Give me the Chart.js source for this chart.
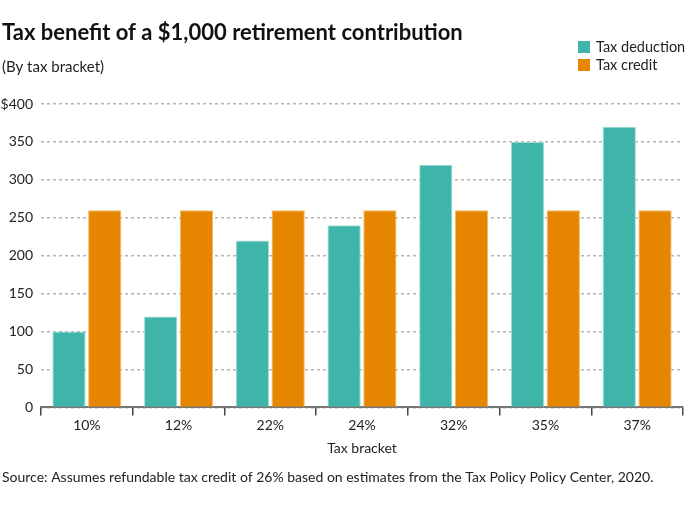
<!DOCTYPE html>
<html>
<head>
<meta charset="utf-8">
<script src="https://cdn.jsdelivr.net/npm/chart.js@4"></script>
<style>
html,body{margin:0;padding:0;background:#fff;}
#wrap{width:700px;height:509px;position:relative;}
</style>
</head>
<body>
<div id="wrap"><canvas id="c" width="700" height="509"></canvas></div>
<script>
const categories = ['10%','12%','22%','24%','32%','35%','37%'];
const deduction = [100,120,220,240,320,350,370];
const credit = [260,260,260,260,260,260,260];
const seriesNames = ['Tax deduction','Tax credit'];
const seriesColors = ['#3fb5aa','#e68600'];
const yTicks = [0,50,100,150,200,250,300,350,400];
const titleText = 'Tax benefit of a $1,000 retirement contribution';
const subtitleText = '(By tax bracket)';
const sourceText = 'Source: Assumes refundable tax credit of 26% based on estimates from the Tax Policy Policy Center, 2020.';
const xTitle = 'Tax bracket';
const FONT = 'Lato';

const overlay = {
  id:'overlay',
  afterDraw(chart){
    const ctx = chart.ctx;
    ctx.save();
    ctx.fillStyle = '#111';
    ctx.textBaseline = 'alphabetic';
    ctx.textAlign = 'left';
    ctx.font = 'bold 22px ' + FONT;
    ctx.fillText(titleText, 2, 40);
    ctx.fillStyle = '#222';
    ctx.font = '15px ' + FONT;
    ctx.fillText(subtitleText, 2, 72);
    ctx.font = '14px ' + FONT;
    ctx.fillText(sourceText, 2, 482);
    seriesNames.forEach((n,i)=>{
      const y = 41 + i*18;
      ctx.fillStyle = seriesColors[i];
      ctx.fillRect(578, y, 12, 12);
      ctx.fillStyle = '#222';
      ctx.font = '14.5px ' + FONT;
      ctx.fillText(n, 596, y + 11);
    });
    ctx.restore();
  }
};

new Chart(document.getElementById('c'), {
  type:'bar',
  data:{
    labels:categories,
    datasets:[
      {label:seriesNames[0], data:deduction, backgroundColor:seriesColors[0], borderColor:'#9fdcd5', borderWidth:1, categoryPercentage:0.78, barPercentage:0.93},
      {label:seriesNames[1], data:credit, backgroundColor:seriesColors[1], borderColor:'#f5b866', borderWidth:1, categoryPercentage:0.78, barPercentage:0.93}
    ]
  },
  options:{
    responsive:false,
    animation:false,
    devicePixelRatio:1,
    layout:{padding:{top:104,right:17,bottom:48,left:0}},
    plugins:{legend:{display:false},tooltip:{enabled:false},title:{display:false}},
    scales:{
      y:{
        min:0,max:400,
        afterBuildTicks(scale){ scale.ticks = yTicks.map(v=>({value:v})); },
        afterFit(scale){ scale.width = 41; },
        ticks:{
          font:{family:FONT,size:14}, color:'#222', padding:8,
          callback:(v)=> v===400 ? '$400' : String(v)
        },
        border:{display:false, dash:[3,3]},
        grid:{color:'#b5b5b5', lineWidth:1.5, drawTicks:false}
      },
      x:{
        ticks:{font:{family:FONT,size:14}, color:'#222', padding:2},
        border:{display:true, color:'#777', width:2},
        grid:{display:true, drawOnChartArea:false, drawTicks:true, tickLength:8, color:'#444', lineWidth:1.5},
        title:{display:true, text:xTitle, font:{family:FONT,size:14}, color:'#222', padding:{top:4}}
      }
    }
  },
  plugins:[overlay]
});
</script>
</body>
</html>
